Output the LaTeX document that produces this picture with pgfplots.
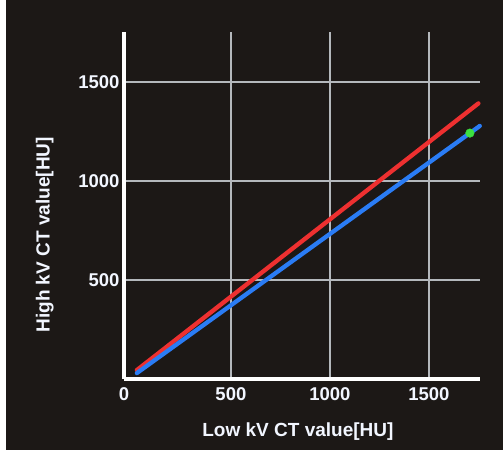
\documentclass[border=0pt]{standalone}
\usepackage{pgfplots}
\pgfplotsset{compat=1.18}
\usepackage{fontspec}
\setmainfont{Liberation Sans}
\usetikzlibrary{backgrounds}
\definecolor{screenBG}{HTML}{1C1816}
\definecolor{gridC}{HTML}{B4B8BC}
\definecolor{redC}{HTML}{EE3030}
\definecolor{blueC}{HTML}{2A7CF5}
\definecolor{greenC}{HTML}{3CE040}
\definecolor{textC}{HTML}{F2F6FF}

\begin{document}
\begin{tikzpicture}

\begin{axis}[
    at={(124pt,76pt)},
    anchor=south west,
    scale only axis,
    width=356.4pt,
    height=346.5pt,
    xmin=-40, xmax=1760,
    ymin=0, ymax=1750,
    axis x line=bottom,
    axis y line=left,
    axis line style={-, white, line width=4.5pt},
    xtick={500,1000,1500},
    xticklabels={500,1000,1500},
    extra x ticks={0},
    extra x tick labels={0},
    extra x tick style={grid=none, xticklabel style={xshift=-8pt}},
    ytick={500,1000,1500},
    yticklabels={500,1000,1500},
    major tick length=0pt,
    tick style={draw=none},
    grid=major,
    grid style={gridC, line width=1.4pt},
    ticklabel style={font=\fontsize{18.5}{18.5}\selectfont\bfseries, text=textC},
    xticklabel style={yshift=-5pt},
    yticklabel style={xshift=-1pt},
    xlabel={Low kV CT value[HU]},
    ylabel={High kV CT value[HU]},
    label style={font=\fontsize{19}{19}\selectfont\bfseries, text=textC},
    xlabel style={at={(axis description cs:0.488,-0.153)}, anchor=center},
    ylabel style={at={(axis description cs:-0.222,0.416)}, anchor=center, rotate=0},
    clip=false,
]

% red line
\addplot[redC, line width=4.3pt, line cap=round]
    coordinates {(25,45) (1750,1392)};

% blue line
\addplot[blueC, line width=4.3pt, line cap=round]
    coordinates {(25,30) (1757,1278)};

% green point
\addplot[only marks, mark=*, mark size=4.3pt, mark options={fill=greenC, draw=greenC}]
    coordinates {(1707,1242)};

\end{axis}

\begin{scope}[on background layer]
    \fill[white] (0,0) rectangle (503pt,455pt);
    \fill[screenBG] (6pt,5pt) rectangle (503pt,455pt);
\end{scope}

\end{tikzpicture}
\end{document}
